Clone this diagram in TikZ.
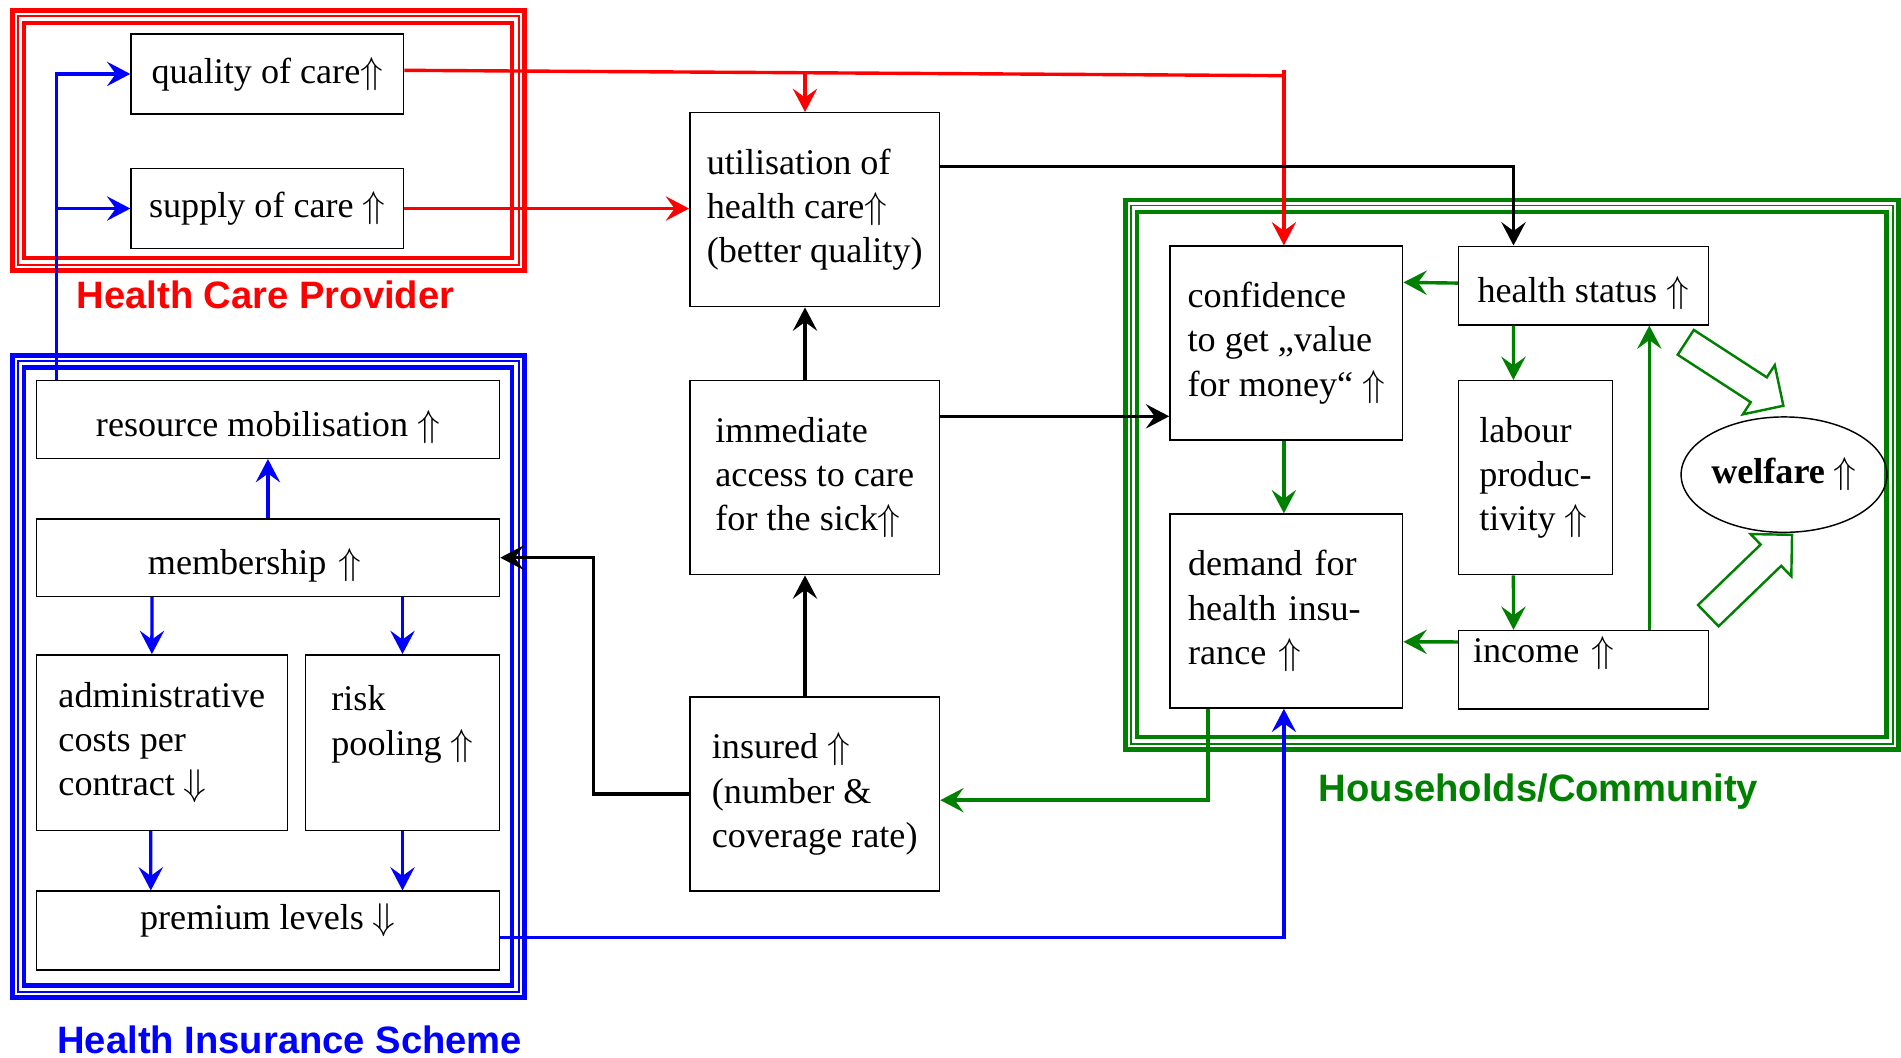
\documentclass[tikz,border=0pt]{standalone}
\usepackage{amssymb}
\usepackage{fontspec}
\setmainfont{Liberation Serif}
\newfontfamily\labelfont{Liberation Sans}
\usetikzlibrary{arrows.meta,calc,shapes.geometric,shapes.arrows}
\definecolor{hhgreen}{RGB}{0,128,0}

\begin{document}
\begin{tikzpicture}[x=0.125mm, y=-0.125mm,
  every node/.style={font=\fontsize{10.6}{13}\selectfont},
  box/.style={draw, line width=0.15mm, align=left, inner sep=0pt},
  grouplabel/.style={font=\labelfont\bfseries\fontsize{11.2}{13}\selectfont},
  conn/.style={line width=0.35mm, -{Stealth[length=2.4mm,width=2.5mm,inset=0.9mm]}},
  fatarrow/.style={single arrow, draw=hhgreen, line width=0.25mm, minimum height=12mm, minimum width=5.8mm, single arrow head extend=1.5mm, inner xsep=0pt, inner ysep=1.4mm}]
\useasboundingbox (0,0) rectangle (1568,872);

\draw[red, line width=0.5mm] (10,9) rectangle (432.5,223);
\draw[red, line width=0.2mm] (14.5,13.5) rectangle (428,218.5);
\draw[red, line width=0.45mm] (20,19) rectangle (422.5,213);
\draw[blue, line width=0.5mm] (10,293) rectangle (432.5,823);
\draw[blue, line width=0.2mm] (14.5,297.5) rectangle (428,818.5);
\draw[blue, line width=0.45mm] (20,303) rectangle (422.5,813);
\draw[hhgreen, line width=0.5mm] (928,165) rectangle (1566,618);
\draw[hhgreen, line width=0.2mm] (932.5,169.5) rectangle (1561.5,613.5);
\draw[hhgreen, line width=0.45mm] (938,175) rectangle (1556,608);

\node[grouplabel, text=red] (hcp) at (219,243) {Health Care Provider};
\node[grouplabel, text=blue] (his) at (239,858) {Health Insurance Scheme};
\node[grouplabel, text=hhgreen] (hhc) at (1269,653) {Households/Community};

\node[box, minimum width=28.1mm, minimum height=8.25mm] (qual) at (220.5,61) {quality of care$\Uparrow$};
\node[box, minimum width=28.1mm, minimum height=8.25mm] (sup) at (220.5,172) {supply of care $\Uparrow$};
\node[box, minimum width=25.75mm, minimum height=20mm] (util) at (672,173) {utilisation of\\health care$\Uparrow$\\(better quality)};
\node[box, minimum width=25.75mm, minimum height=20mm] (acc) at (672,394) {immediate\\access to care\\for the sick$\Uparrow$};
\node[box, minimum width=25.75mm, minimum height=20mm] (ins) at (672,655) {insured $\Uparrow$\\(number \&\\coverage rate)};
\node[box, minimum width=24mm, minimum height=20mm] (conf) at (1061,283) {confidence\\to get „value\\for money“ $\Uparrow$};
\node[box, minimum width=24mm, minimum height=20mm, text width=20.25mm] (dem) at (1061,504) {demand for\\health insu-\\rance $\Uparrow$};
\node[box, minimum width=25.75mm, minimum height=8.1mm, text height=12pt, text depth=2.3pt] (hs) at (1306,235.5) {health status $\Uparrow$};
\node[box, minimum width=15.9mm, minimum height=20mm] (lab) at (1266.5,394) {labour\\produc-\\tivity $\Uparrow$};
\node[box, minimum width=25.75mm, minimum height=8.1mm, text width=22.75mm, text height=7.5pt, text depth=11.6pt] (inc) at (1306,552.5) {income $\Uparrow$};
\node[draw, ellipse, line width=0.15mm, minimum width=19.9mm, minimum height=11.9mm, inner sep=0pt] (welf) at (1471.5,391.5) {\textbf{welfare} $\Uparrow$};

\node[box, minimum width=47.75mm, minimum height=8mm, text height=12pt, text depth=2.3pt] (res) at (221,346) {resource mobilisation $\Uparrow$};
\node[box, minimum width=47.75mm, minimum height=8mm, text width=24.75mm, text height=12pt, text depth=2.3pt] (mem) at (221,460) {membership $\Uparrow$};
\node[box, minimum width=25.9mm, minimum height=18.1mm] (adm) at (133.5,612.5) {administrative\\costs per\\contract $\Downarrow$};
\node[box, minimum width=20mm, minimum height=18.1mm] (risk) at (332,612.5) {risk\\pooling $\Uparrow$\\\mbox{}};
\node[box, minimum width=47.75mm, minimum height=8.1mm, text height=7.5pt, text depth=8pt] (prem) at (221,767.5) {premium levels $\Downarrow$};

\coordinate (rjoin) at ($(conf.north)+(-2,-140)$);
\draw[conn, red, -] ($(qual.east)+(0,-3)$) -- (rjoin);
\draw[conn, red] ($(rjoin)+(0,-5)$) -- ($(conf.north)+(-2,0)$);
\draw[conn, red] ($(util.north)+(-8,-33)$) -- ($(util.north)+(-8,0)$);
\draw[conn, red] (sup.east) -- (sup.east -| util.west);

\draw[conn] ($(util.north east)+(0,45)$) -| ($(hs.north west)+(46,0)$);
\draw[conn] ($(acc.north east)+(0,30)$) -- ($(conf.north west)+(0,141)$);
\draw[conn] ($(acc.north)+(-8,0)$) -- ($(util.south)+(-8,0)$);
\draw[conn] ($(ins.north)+(-8,0)$) -- ($(acc.south)+(-8,0)$);
\draw[conn] (ins.west) -- ++(-79,0) |- (mem.east);

\draw[conn, hhgreen] ($(conf.south)+(-2,0)$) -- ($(dem.north)+(-2,0)$);
\draw[conn, hhgreen] ($(hs.west)+(0,-2)$) -- ($(conf.north east)+(0,30.5)$);
\draw[conn, hhgreen] ($(hs.south west)+(46,0)$) -- ($(lab.north west)+(46,0)$);
\draw[conn, hhgreen] ($(lab.south west)+(46,0)$) -- ($(inc.north west)+(46,0)$);
\draw[conn, hhgreen] ($(inc.north west)+(0,10)$) -- ($(dem.north east)+(0,106)$);
\draw[conn, hhgreen] ($(inc.north west)+(158,0)$) -- ($(hs.south west)+(158,0)$);
\draw[conn, hhgreen] ($(dem.south west)+(32,0)$) |- ($(ins.east)+(0,5)$);

\draw[conn, blue] ($(res.north west)+(17,0)$) |- (qual.west);
\draw[conn, blue] ($(res.north west)+(17,0)$) |- (sup.west);
\draw[conn, blue] (mem.north) -- (res.south);
\draw[conn, blue] ($(mem.south west)+(96,0)$) -- ($(adm.north west)+(96,0)$);
\draw[conn, blue] (mem.south -| risk.north) -- (risk.north);
\draw[conn, blue] ($(adm.south west)+(95,0)$) -- ($(prem.north west)+(95,0)$);
\draw[conn, blue] (risk.south) -- (risk.south |- prem.north);
\draw[conn, blue] ($(prem.east)+(0,6)$) -| ($(dem.south)+(-2,0)$);

\node[fatarrow, rotate=-33] (hsarrow) at (1425.6,305.2) {};
\node[fatarrow, rotate=44] (incarrow) at (1439.2,478.7) {};
\end{tikzpicture}
\end{document}
